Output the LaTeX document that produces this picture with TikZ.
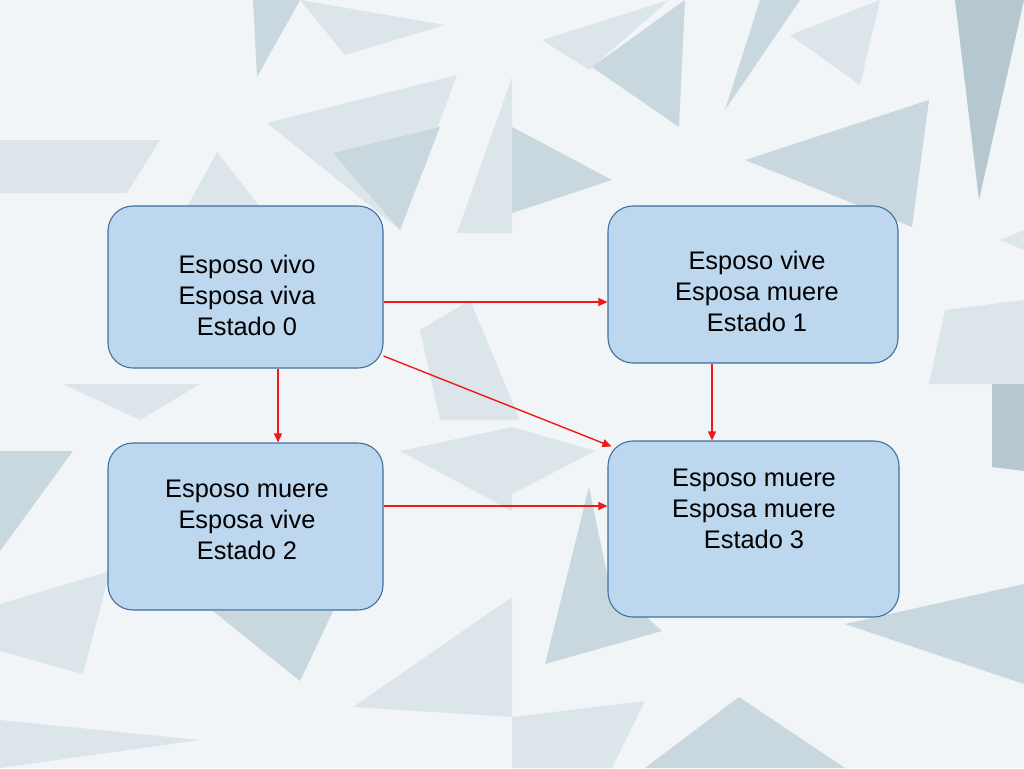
\documentclass[tikz,border=0pt]{standalone}
\usepackage{fontspec}
\setmainfont{Liberation Sans}
\usetikzlibrary{arrows.meta}
\definecolor{bgbase}{HTML}{F1F5F7}
\definecolor{shA}{HTML}{DCE6EA}
\definecolor{shB}{HTML}{C9D7DE}
\definecolor{shC}{HTML}{B5C8D0}
\definecolor{boxfill}{HTML}{BDD7EE}
\definecolor{boxline}{HTML}{41719C}
\definecolor{arrred}{HTML}{F01818}
\tikzset{
  statebox/.style={draw=boxline, line width=1.1pt, fill=boxfill, rounded corners=25pt, inner sep=0pt},
  statetext/.style={align=center, inner sep=0pt, font=\fontsize{25.4}{31}\selectfont},
  arr/.style={draw=arrred, line width=1.4pt, -{Triangle[length=9pt,width=8pt]}},
}
\begin{document}
\begin{tikzpicture}[x=1pt,y=-1pt]
\useasboundingbox (0,0) rectangle (1024,768);
% background
\fill[bgbase] (0,0) rectangle (1024,768);
\fill[shA] (0,140) -- (160,140) -- (127,193) -- (0,193) -- cycle;
\fill[shB] (253,0) -- (300,0) -- (257,77) -- cycle;
\fill[shA] (300,0) -- (445,25) -- (345,55) -- cycle;
\fill[shA] (267,123) -- (457,75) -- (400,230) -- cycle;
\fill[shB] (333,153) -- (440,127) -- (400,230) -- cycle;
\fill[shA] (217,152) -- (260,207) -- (187,207) -- cycle;
\fill[shB] (512,127) -- (612,180) -- (512,213) -- cycle;
\fill[shA] (457,233) -- (512,77) -- (512,233) -- cycle;
\fill[shA] (542,40) -- (669,0) -- (589,70) -- cycle;
\fill[shB] (592,67) -- (685,0) -- (679,127) -- cycle;
\fill[shB] (725,110) -- (760,0) -- (800,0) -- cycle;
\fill[shA] (790,35) -- (880,0) -- (860,85) -- cycle;
\fill[shB] (745,160) -- (929,100) -- (912,227) -- cycle;
\fill[shC] (955,0) -- (1024,0) -- (979,200) -- cycle;
\fill[shA] (945,310) -- (1024,300) -- (1024,384) -- (929,384) -- cycle;
\fill[shA] (1024,230) -- (1000,240) -- (1024,250) -- cycle;
\fill[shB] (0,451) -- (73,451) -- (0,551) -- cycle;
\fill[shA] (0,604) -- (110,571) -- (83,674) -- (0,651) -- cycle;
\fill[shB] (213,611) -- (333,611) -- (300,681) -- cycle;
\fill[shA] (353,707) -- (512,597) -- (512,717) -- cycle;
\fill[shA] (63,384) -- (200,384) -- (140,420) -- cycle;
\fill[shA] (400,451) -- (512,427) -- (512,511) -- cycle;
\fill[shA] (512,427) -- (595,451) -- (512,494) -- cycle;
\fill[shB] (589,487) -- (609,584) -- (662,631) -- (545,664) -- cycle;
\fill[shB] (845,624) -- (1024,584) -- (1024,684) -- cycle;
\fill[shC] (992,384) -- (1024,384) -- (1024,471) -- (992,467) -- cycle;
\fill[shB] (739,697) -- (845,768) -- (645,768) -- cycle;
\fill[shA] (512,717) -- (645,701) -- (612,768) -- (512,768) -- cycle;
\fill[shA] (0,720) -- (200,740) -- (0,768) -- cycle;
\fill[shA] (420,330) -- (470,300) -- (520,420) -- (440,420) -- cycle;
% boxes
\node[statebox, minimum width=275pt, minimum height=162pt] (b0) at (245.5,287) {};
\node[statebox, minimum width=290pt, minimum height=157pt] (b1) at (753,284.5) {};
\node[statebox, minimum width=275pt, minimum height=167pt] (b2) at (245.5,526.5) {};
\node[statebox, minimum width=291pt, minimum height=176pt] (b3) at (753.5,529) {};
% texts
\node[statetext] (t0) at (247,295) {Esposo vivo\\Esposa viva\\Estado 0};
\node[statetext] (t1) at (757,291) {Esposo vive\\Esposa muere\\Estado 1};
\node[statetext] (t2) at (247,520) {Esposo muere\\Esposa vive\\Estado 2};
\node[statetext] (t3) at (754,509) {Esposo muere\\Esposa muere\\Estado 3};
% connectors
\draw[arr] ([yshift=-15pt]b0.east) -- ([yshift=-17.5pt]b1.west);
\draw[arr] ([xshift=32.5pt]b0.south) -- ([xshift=32.5pt]b2.north);
\draw[arr] ([yshift=-69pt]b0.east) -- ([xshift=4pt,yshift=-6pt]b3.north west);
\draw[arr] ([xshift=-41pt]b1.south) -- ([xshift=-41.5pt]b3.north);
\draw[arr] ([yshift=20.5pt]b2.east) -- ([yshift=23pt]b3.west);
\end{tikzpicture}
\end{document}
